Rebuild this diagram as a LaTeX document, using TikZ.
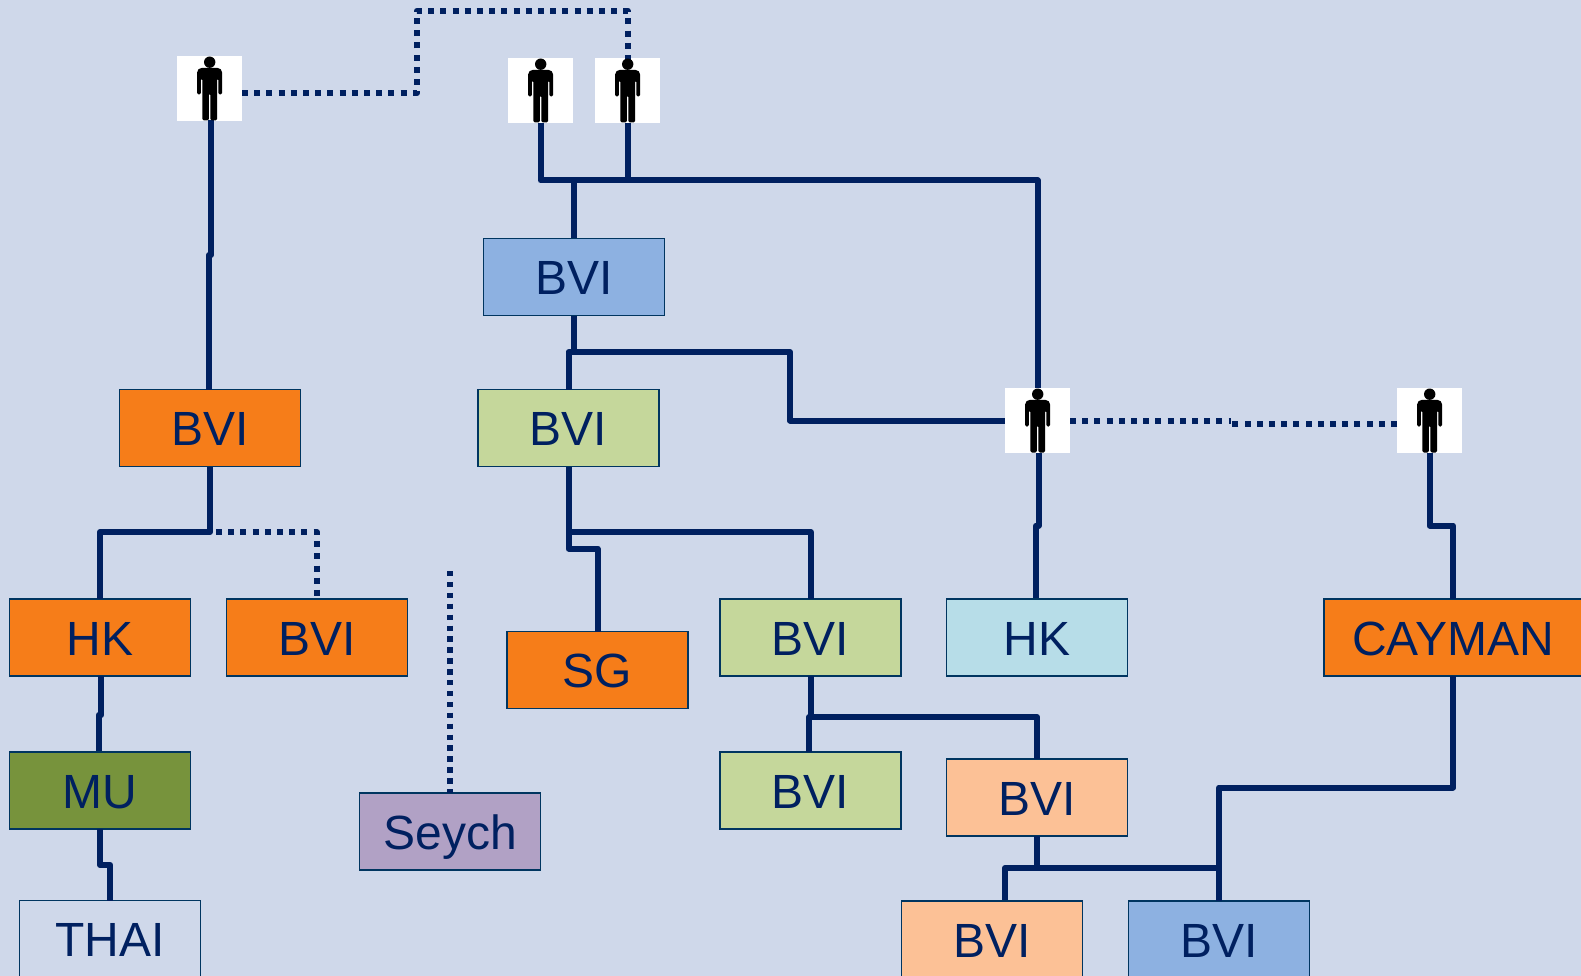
\documentclass[tikz,border=0pt]{standalone}
\usepackage{fontspec}
\setmainfont{Liberation Sans}
\usetikzlibrary{calc}
\definecolor{bg}{HTML}{CFD8EA}
\definecolor{navy}{HTML}{002060}
\definecolor{edge}{HTML}{003560}
\definecolor{cOrange}{HTML}{F67D19}
\definecolor{cBlue}{HTML}{8DB1E1}
\definecolor{cGreen}{HTML}{C5D79B}
\definecolor{cOlive}{HTML}{77933C}
\definecolor{cPeach}{HTML}{FCC196}
\definecolor{cCyan}{HTML}{B7DDE8}
\definecolor{cPurple}{HTML}{B1A1C5}
\tikzset{
  box/.style={draw=edge,line width=1.5pt,minimum width=181pt,minimum height=77pt,inner sep=0pt,outer sep=0pt,
    text=navy,font=\fontsize{48}{52}\selectfont,text height=35pt,text depth=0pt,align=center},
  person/.style={fill=white,minimum width=65pt,minimum height=65pt,inner sep=0pt,outer sep=0pt},
  conn/.style={draw=navy,line width=6pt,line join=round,line cap=butt},
  dots/.style={draw=navy,line width=6pt,line join=round,dash pattern=on 6pt off 6.2pt},
  fdots/.style={draw=navy,line width=5.4pt,dash pattern=on 5.4pt off 5.5pt}
}
\newcommand{\personicon}[1]{%
  \begin{scope}[shift={(#1)}]
    \fill[black] (0.2,-26.3) circle (5.7);
    \fill[black,rounded corners=1.5pt]
      (-12.5,-14) [rounded corners=5pt] -- (-12.5,-20.7) -- (12.7,-20.7)
      [rounded corners=1.5pt] -- (12.7,6) -- (8.9,6) -- (8.9,-10) -- (7.6,-10) -- (7.6,32)
      -- (0.8,32) -- (0.8,5) -- (-0.6,5) -- (-0.6,32) -- (-7.2,32) -- (-7.2,-10) -- (-8.6,-10) -- (-8.6,6) -- (-12.5,6) -- cycle;
  \end{scope}}
\begin{document}
\begin{tikzpicture}[x=1pt,y=-1pt]
\fill[bg] (0,0) rectangle (1581,976);
\useasboundingbox (0,0) rectangle (1581,976);
\begin{scope}
\clip (0,0) rectangle (1581,976);
% persons
\node[person] (p1) at (209.5,88.5) {};
\node[person] (p2) at (540.5,90.5) {};
\node[person] (p3) at (627.5,90.5) {};
\node[person] (p4) at (1037.5,420.5) {};
\node[person] (p5) at (1429.5,420.5) {};
% boxes
\node[box,fill=cOrange] (bviA) at (210,428) {BVI};
\node[box,fill=cOrange] (hkA) at (100,637.5) {HK};
\node[box,fill=cOrange] (bviB) at (317,637.5) {BVI};
\node[box,fill=cOlive] (muA) at (100,790.5) {MU};
\node[box] (thai) at (110,939) {THAI};
\node[box,fill=cPurple] (seych) at (450,831.5) {Seych};
\node[box,fill=cBlue] (bviT) at (574,277) {BVI};
\node[box,fill=cGreen] (bviG) at (568.5,428) {BVI};
\node[box,fill=cOrange] (sg) at (597.5,670) {SG};
\node[box,fill=cGreen] (bviH) at (810.5,637.5) {BVI};
\node[box,fill=cCyan] (hkB) at (1037,637.5) {HK};
\node[box,fill=cOrange,minimum width=258pt] (cay) at (1453,637.5) {CAYMAN};
\node[box,fill=cGreen] (bviJ) at (810.5,790.5) {BVI};
\node[box,fill=cPeach] (bviP) at (1037,797.5) {BVI};
\node[box,fill=cPeach] (bviQ) at (992,939.5) {BVI};
\node[box,fill=cBlue] (bviR) at (1219,939.5) {BVI};
\coordinate (seychEnd) at (450,571);
\coordinate (jogA) at (1231,420.5);
\coordinate (jogB) at (1231,423.5);
% connectors
\draw[conn] ([xshift=1.5pt,yshift=1pt]p1.south) -- ++(0,135) -- ++(-2,0) -- (bviA.north -| 209,0);
\draw[dots] (p1.east |- 0,93) -- (417,93) -- (417,10.7) -- (627.7,10.7) -- (627.7,60);
\draw[conn] (p2.south) -- (540.5,180.5) -- (1037.5,180.5) -- (p4.north);
\draw[conn] (p3.south) -- (627.5,180.5);
\draw[conn] (574,180.5) -- (bviT.north);
\draw[conn] (bviT.south) -- (574,352) -- (568.5,352) -- (bviG.north);
\draw[conn] (568.5,352) -- (790,352) -- (790,420.5) -- (p4.west);
\draw[dots] (p4.east) -- (jogA);
\draw[dots] (p5.west |- 0,423.5) -- (jogB);
\draw[conn] ([xshift=1pt]p4.south) -- (1038.5,525.5) -- (1036,525.5) -- (1036,598);
\draw[conn] (p5.south) -- (1429.5,525.5) -- (1453,525.5) -- (cay.north -| 1453,0);
\draw[conn] (cay.south -| 1453,0) -- (1453,787.5) -- (1219,787.5) -- (bviR.north);
\draw[conn] (bviP.south) -- (1037,868);
\draw[conn] (1219,868) -- (1005,868) -- (1005,900);
\draw[conn] (bviG.south) -- (568.5,548.7) -- (597.5,548.7) -- (sg.north);
\draw[conn] (568.5,532.3) -- (810.7,532.3) -- (bviH.north -| 810.7,0);
\draw[conn] ([xshift=0.8pt]bviH.south) -- (811.3,717) -- (809,717) -- (809,751.5);
\draw[conn] (809,717) -- (1037,717) -- (bviP.north);
\draw[conn] (bviA.south) -- (210,532) -- (100,532) -- (hkA.north);
\draw[dots] (216,532) -- (316.7,532) -- (bviB.north -| 316.7,0);
\draw[conn] (101.3,676) -- (101.3,715) -- (98.7,715) -- (98.7,751);
\draw[conn] (muA.south) -- (100,865) -- (110.3,865) -- (thai.north -| 110.3,0);
\draw[fdots] (seychEnd) -- (seych.north);
\end{scope}
\foreach \p in {p1,p2,p3,p4,p5}{\personicon{\p}}
\end{tikzpicture}
\end{document}
